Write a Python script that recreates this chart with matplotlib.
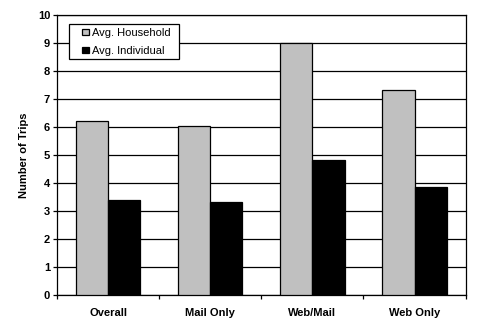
import matplotlib.pyplot as plt
import numpy as np
from matplotlib.patches import Rectangle

plt.rcParams['font.family'] = ['Liberation Sans', 'DejaVu Sans']

categories = ["Overall", "Mail Only", "Web/Mail", "Web Only"]
household = [6.22, 6.03, 9.0, 7.33]
individual = [3.40, 3.32, 4.83, 3.87]

fig = plt.figure(figsize=(4.8, 3.27), dpi=100)
ax = fig.add_axes([0.119, 0.097, 0.851, 0.857])

x = np.arange(len(categories))
w = 0.315
ax.bar(x - w / 2, household, w, color='#c0c0c0', edgecolor='black', linewidth=0.9,
       label='Avg. Household', zorder=3)
ax.bar(x + w / 2, individual, w, color='black', edgecolor='black', linewidth=0.9,
       label='Avg. Individual', zorder=3)

ax.set_xlim(-0.5, len(categories) - 0.5)
ax.set_ylim(0, 10)
ax.set_yticks(range(0, 11))
ax.yaxis.grid(True, color='black', linewidth=0.9, zorder=0)
ax.set_axisbelow(True)

ax.set_xticks(x)
ax.set_xticklabels(categories, fontsize=8, fontweight='bold')
ax.set_xticks(np.arange(-0.5, len(categories)), minor=True)
ax.tick_params(axis='x', which='major', length=0, pad=9)
ax.tick_params(axis='x', which='minor', length=3, width=0.9, direction='out')
ax.tick_params(axis='y', length=3, width=0.9, labelsize=8, pad=2)
for lbl in ax.get_yticklabels():
    lbl.set_fontweight('bold')

for s in ax.spines.values():
    s.set_linewidth(0.9)

ax.set_ylabel("Number of Trips", fontsize=8, fontweight='bold', labelpad=6)

# legend box drawn as a plain white rectangle, entries placed inside it
ax.add_patch(Rectangle((0.029, 0.844), 0.27, 0.125, transform=ax.transAxes,
                       facecolor='white', edgecolor='black', linewidth=0.9, zorder=4))
leg = ax.legend(loc='upper left', bbox_to_anchor=(0.062, 0.954), fontsize=8,
                frameon=False, handlelength=0.55, handleheight=0.55,
                handletextpad=0.3, borderpad=0, labelspacing=0.72, borderaxespad=0)
leg.set_zorder(5)

fig.savefig("out.png", dpi=100)
